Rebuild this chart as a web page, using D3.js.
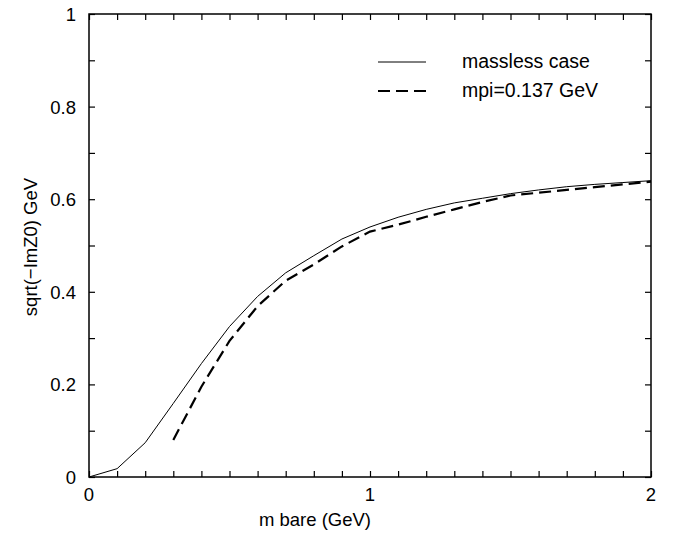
<!DOCTYPE html>
<html>
<head>
<meta charset="utf-8">
<script src="https://cdn.jsdelivr.net/npm/d3@7"></script>
<style>
  body { margin: 0; background: #fff; }
  text { font-family: "Liberation Sans", Arial, Helvetica, sans-serif; fill: #000; }
</style>
</head>
<body>
<div id="chart"></div>
<script>
const width = 673;
const height = 533;
const MARGIN_LEFT = 89;
const MARGIN_RIGHT = 22;
const MARGIN_TOP = 14;
const MARGIN_DOWN = 56;

// m bare (GeV)
const mBare = [0, 0.1, 0.2, 0.3, 0.4, 0.5, 0.6, 0.7, 0.8, 0.9, 1.0,
               1.1, 1.2, 1.3, 1.4, 1.5, 1.6, 1.7, 1.8, 1.9, 2.0];
// sqrt(-ImZ0), massless case
const massless = [0, 0.018, 0.074, 0.159, 0.245, 0.325, 0.39, 0.441, 0.478, 0.514, 0.54,
                  0.561, 0.578, 0.592, 0.602, 0.612, 0.62, 0.627, 0.632, 0.636, 0.64];
// sqrt(-ImZ0), mpi = 0.137 GeV (starts at m bare = 0.3)
const mpiX = [0.3, 0.4, 0.5, 0.6, 0.7, 0.8, 0.9, 1.0,
              1.1, 1.2, 1.3, 1.4, 1.5, 1.6, 1.7, 1.8, 1.9, 2.0];
const mpiY = [0.08, 0.195, 0.294, 0.369, 0.424, 0.459, 0.498, 0.53,
              0.545, 0.562, 0.578, 0.594, 0.608, 0.614, 0.62, 0.626, 0.632, 0.638];

const xTicks = [0, 1, 2];
const yTicks = [0, 0.2, 0.4, 0.6, 0.8, 1];
const legendLabels = ["massless case", "mpi=0.137 GeV"];

var xScale = d3.scaleLinear()
    .domain([0, 2])
    .range([MARGIN_LEFT, width - MARGIN_RIGHT]);

var yScale = d3.scaleLinear()
    .domain([0, 1])
    .range([height - MARGIN_DOWN, MARGIN_TOP]);

var svg = d3.select('#chart')
    .append('svg')
    .attr('width', width)
    .attr('height', height);

// minor ticks every 0.1, pointing inwards on all four sides
var tickLen = 6;
var minorX = d3.range(0, 21).map(i => i / 10);
var minorY = d3.range(0, 11).map(i => i / 10);

svg.append('g')
    .attr('transform', `translate(0, ${yScale(0)})`)
    .call(d3.axisTop(xScale).tickValues(minorX).tickSize(tickLen).tickFormat(''))
    .call(g => g.select('.domain').remove());

svg.append('g')
    .attr('transform', `translate(0, ${yScale(1)})`)
    .call(d3.axisBottom(xScale).tickValues(minorX).tickSize(tickLen).tickFormat(''))
    .call(g => g.select('.domain').remove());

svg.append('g')
    .attr('transform', `translate(${xScale(0)}, 0)`)
    .call(d3.axisRight(yScale).tickValues(minorY).tickSize(tickLen).tickFormat(''))
    .call(g => g.select('.domain').remove());

svg.append('g')
    .attr('transform', `translate(${xScale(2)}, 0)`)
    .call(d3.axisLeft(yScale).tickValues(minorY).tickSize(tickLen).tickFormat(''))
    .call(g => g.select('.domain').remove());

svg.selectAll('.tick line').attr('stroke', '#000').attr('stroke-width', 1.2);

// frame
svg.append('rect')
    .attr('x', xScale(0))
    .attr('y', yScale(1))
    .attr('width', xScale(2) - xScale(0))
    .attr('height', yScale(0) - yScale(1))
    .attr('fill', 'none')
    .attr('stroke', '#000')
    .attr('stroke-width', 1.5);

// tick labels
svg.selectAll('.xlab')
    .data(xTicks)
    .join('text')
    .attr('class', 'xlab')
    .attr('x', d => xScale(d))
    .attr('y', yScale(0) + 24)
    .attr('text-anchor', 'middle')
    .attr('font-size', '18.5px')
    .text(d => d);

svg.selectAll('.ylab')
    .data(yTicks)
    .join('text')
    .attr('class', 'ylab')
    .attr('x', xScale(0) - 13)
    .attr('y', d => yScale(d) + 7)
    .attr('text-anchor', 'end')
    .attr('font-size', '18.5px')
    .text(d => d);

// axis titles
svg.append('text')
    .attr('x', 315)
    .attr('y', 526)
    .attr('text-anchor', 'middle')
    .attr('font-size', '18.5px')
    .text('m bare (GeV)');

svg.append('text')
    .attr('transform', 'translate(37, 247) rotate(-90)')
    .attr('text-anchor', 'middle')
    .attr('font-size', '18.5px')
    .text('sqrt(\u2212ImZ0) GeV');

// curves
var line = d3.line()
    .x(d => xScale(d[0]))
    .y(d => yScale(d[1]));

svg.append('path')
    .datum(mBare.map((x, i) => [x, massless[i]]))
    .attr('fill', 'none')
    .attr('stroke', '#000')
    .attr('stroke-width', 1)
    .attr('d', line);

svg.append('path')
    .datum(mpiX.map((x, i) => [x, mpiY[i]]))
    .attr('fill', 'none')
    .attr('stroke', '#000')
    .attr('stroke-width', 2.2)
    .attr('stroke-dasharray', '12,6')
    .attr('d', line);

// legend
var legend = svg.append('g').attr('transform', 'translate(378, 62)');
var styles = [{w: 1, dash: null}, {w: 2.2, dash: '12,6'}];

legend.selectAll('line')
    .data(legendLabels)
    .join('line')
    .attr('x1', 0)
    .attr('x2', 48)
    .attr('y1', (d, i) => i * 29)
    .attr('y2', (d, i) => i * 29)
    .attr('stroke', '#000')
    .attr('stroke-width', (d, i) => styles[i].w)
    .attr('stroke-dasharray', (d, i) => styles[i].dash);

legend.selectAll('text')
    .data(legendLabels)
    .join('text')
    .attr('x', 84)
    .attr('y', (d, i) => i * 29 + 6)
    .attr('font-size', '19.5px')
    .text(d => d);
</script>
</body>
</html>
